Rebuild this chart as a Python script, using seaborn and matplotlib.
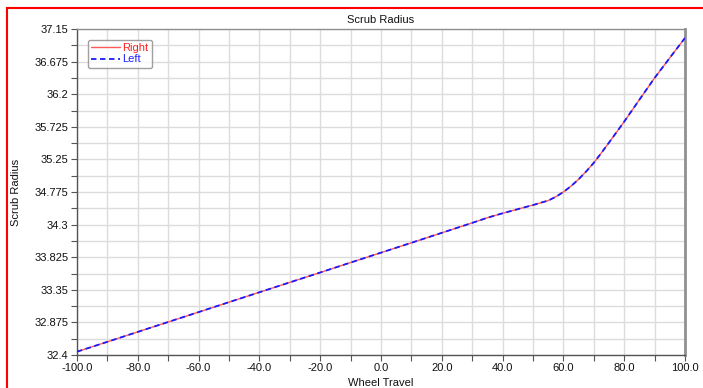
import numpy as np
import pandas as pd
import matplotlib
matplotlib.use("Agg")
import matplotlib.pyplot as plt
from matplotlib.ticker import FixedLocator
from matplotlib.patches import Rectangle
import seaborn as sns

# ---- data ----
wheel_travel = [-100, -90, -80, -70, -60, -50, -40, -30, -20, -10, 0, 10, 20, 30,
                35, 40, 45, 50, 55, 57.5, 60, 62.5, 65, 67.5, 70, 72.5, 75,
                80, 85, 90, 95, 100]
scrub_right = [32.448, 32.592, 32.737, 32.881, 33.025, 33.170, 33.314, 33.458,
               33.602, 33.747, 33.891, 34.035, 34.180, 34.325, 34.400, 34.465,
               34.525, 34.585, 34.650, 34.705, 34.775, 34.860, 34.960, 35.075,
               35.200, 35.345, 35.495, 35.800, 36.120, 36.437, 36.730, 37.020]
scrub_left = list(scrub_right)
y_ticks = [32.4, 32.875, 33.35, 33.825, 34.3, 34.775, 35.25, 35.725, 36.2, 36.675, 37.15]
x_ticks = [-100, -80, -60, -40, -20, 0, 20, 40, 60, 80, 100]
series_names = ["Right", "Left"]

sns.set_style("white")
plt.rcParams["font.family"] = ["Liberation Sans", "DejaVu Sans"]

W, H = 703, 388
fig = plt.figure(figsize=(W / 100, H / 100), dpi=100)
ax = fig.add_axes([77 / W, 1 - 355 / H, (685 - 77) / W, (355 - 29) / H])

df_r = pd.DataFrame({"x": wheel_travel, "y": scrub_right})
df_l = pd.DataFrame({"x": wheel_travel, "y": scrub_left})
sns.lineplot(data=df_r, x="x", y="y", ax=ax, color="#ff5a5a", lw=1.0,
             label=series_names[0], zorder=3)
sns.lineplot(data=df_l, x="x", y="y", ax=ax, color="#1a1aff", lw=1.3,
             label=series_names[1], zorder=4)
ax.lines[1].set_dashes([3, 2])

ax.set_xlim(-100, 100)
ax.set_ylim(32.4, 37.15)
x_minor = [(a + b) / 2 for a, b in zip(x_ticks[:-1], x_ticks[1:])]
y_minor = [(a + b) / 2 for a, b in zip(y_ticks[:-1], y_ticks[1:])]
ax.xaxis.set_major_locator(FixedLocator(x_ticks))
ax.xaxis.set_minor_locator(FixedLocator(x_minor))
ax.yaxis.set_major_locator(FixedLocator(y_ticks))
ax.yaxis.set_minor_locator(FixedLocator(y_minor))
ax.set_xticklabels([f"{v:.1f}" for v in x_ticks])
ax.set_yticklabels([f"{v:g}" for v in y_ticks])
ax.tick_params(axis="both", which="both", direction="out", length=4, width=0.8,
               color="#555555", labelsize=8, labelcolor="#111111", pad=2)
ax.tick_params(axis="both", which="both", bottom=True, left=True)
ax.grid(True, which="both", color="#dcdcdc", lw=1.0)
ax.set_axisbelow(True)
for name, sp in ax.spines.items():
    sp.set_visible(True)
    sp.set_color("#909090")
    sp.set_linewidth(1.0)
ax.spines["right"].set_linewidth(2.0)
ax.spines["left"].set_color("#555555")
ax.spines["bottom"].set_color("#555555")

ax.set_title("Scrub Radius", fontsize=8, pad=4, color="#111111")
ax.set_xlabel("Wheel Travel", fontsize=8, labelpad=3, color="#111111")
ax.set_ylabel("Scrub Radius", fontsize=8, labelpad=10, color="#111111")

leg = ax.legend(loc="upper left", bbox_to_anchor=(11 / 608, 1 - 11 / 326),
                fontsize=8, frameon=True, fancybox=True, handlelength=2.6,
                borderpad=0.3, labelspacing=0.1, handletextpad=0.2,
                borderaxespad=0)
leg.get_frame().set_edgecolor("#888888")
leg.get_frame().set_linewidth(1.0)
for t, c in zip(leg.get_texts(), ["#ff2020", "#2020ff"]):
    t.set_color(c)

# red outer border
fig.patches.append(Rectangle((7 / W, -0.1), 1.2, 1 - 8 / H + 0.1,
                             transform=fig.transFigure, fill=False,
                             edgecolor="#ff0000", lw=1.5))

fig.savefig("out.png", dpi=100)
